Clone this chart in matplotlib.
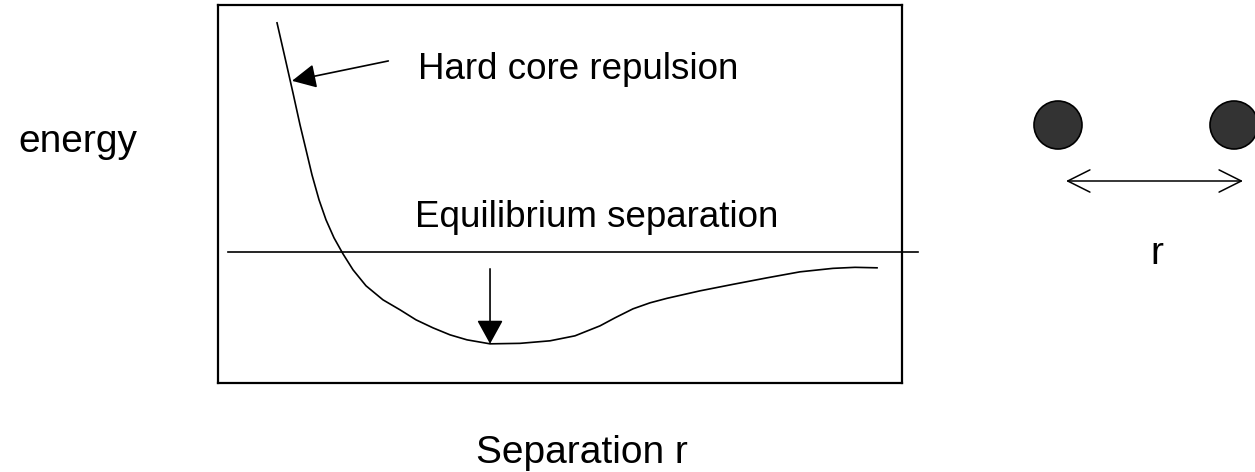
import matplotlib.pyplot as plt
from matplotlib.patches import Circle

plt.rcParams['font.family'] = ['Liberation Sans', 'DejaVu Sans']

## データ（図から読み取った値、任意単位）
# ポテンシャルエネルギー曲線
r_vals = [0.863, 0.980, 1.096, 1.199, 1.287, 1.374, 1.477, 1.579, 1.696, 1.827,
          1.974, 2.164, 2.412, 2.661, 2.895, 3.143, 3.392, 3.640, 3.977, 4.415,
          4.854, 5.219, 5.585, 5.804, 6.067, 6.316, 6.564, 7.047, 7.529, 8.026,
          8.509, 8.991, 9.313, 9.635]
energy_vals = [6.058, 5.132, 4.206, 3.360, 2.698, 2.037, 1.376, 0.847, 0.370,
               -0.053, -0.476, -0.899, -1.270, -1.534, -1.799, -2.011, -2.196,
               -2.328, -2.434, -2.421, -2.354, -2.222, -1.958, -1.746, -1.508,
               -1.349, -1.230, -1.032, -0.860, -0.688, -0.529, -0.437, -0.410,
               -0.423]

# ゼロ線（枠の右へ少しはみ出す）
zero_r = [0.15, 10.24]
zero_e = [0.0, 0.0]

# 矢印（始点, 終点）
hard_core_tail = (2.49, 5.05)
hard_core_tip = (1.082, 4.524)
equil_tail = (3.977, -0.45)
equil_tip = (3.977, -2.434)

# 右側の2原子の図（ピクセル座標）
atom_x = [1058, 1234]
atom_y = 125
atom_radius = 24
sep_arrow_x = [1066, 1243]
sep_arrow_y = 181

fig = plt.figure(figsize=(12.55, 4.72), dpi=100)

# 背景用の軸（図全体、ピクセル座標）
ax0 = fig.add_axes([0, 0, 1, 1])
ax0.set_xlim(0, 1255)
ax0.set_ylim(472, 0)
ax0.axis("off")

# 枠付きのグラフ
ax = fig.add_axes([218 / 1255, (472 - 383) / 472, 684 / 1255, 378 / 472])
ax.set_xlim(0, 10)
ax.set_ylim(-3.47, 6.53)
ax.set_xticks([])
ax.set_yticks([])
for s in ax.spines.values():
    s.set_linewidth(1.6)
    s.set_color("black")

ax.plot(r_vals, energy_vals, color="black", lw=1.2, solid_joinstyle="round")
ax.plot(zero_r, zero_e, color="black", lw=1.2, clip_on=False)

ax.annotate("", xy=hard_core_tip, xytext=hard_core_tail,
            arrowprops=dict(arrowstyle="-|>,head_length=0.4,head_width=0.2",
                            mutation_scale=37, lw=1.2, color="black",
                            shrinkA=0, shrinkB=0))
ax.annotate("", xy=equil_tip, xytext=equil_tail,
            arrowprops=dict(arrowstyle="-|>,head_length=0.4,head_width=0.22",
                            mutation_scale=37, lw=1.2, color="black",
                            shrinkA=0, shrinkB=0))

ax.text(2.92, 4.58, "Hard core repulsion", fontsize=26.5, va="baseline", ha="left")
ax.text(2.88, 0.66, "Equilibrium separation", fontsize=26.5, va="baseline", ha="left")

# 軸ラベル
ax0.text(18, 152, "energy", fontsize=28, va="baseline", ha="left")
ax0.text(688, 463, "Separation r", fontsize=28, va="baseline", ha="right")

# 2原子と距離 r
for x in atom_x:
    ax0.add_patch(Circle((x, atom_y), atom_radius, facecolor="#333333",
                         edgecolor="black", lw=1.2))
ax0.annotate("", xy=(sep_arrow_x[1], sep_arrow_y), xytext=(sep_arrow_x[0], sep_arrow_y),
             arrowprops=dict(arrowstyle="<->,head_length=0.4,head_width=0.2",
                             mutation_scale=40, lw=1.1, color="black",
                             shrinkA=0, shrinkB=0))
ax0.text(1157, 264, "r", fontsize=28, va="baseline", ha="center")

plt.savefig("out.png", dpi=100)
